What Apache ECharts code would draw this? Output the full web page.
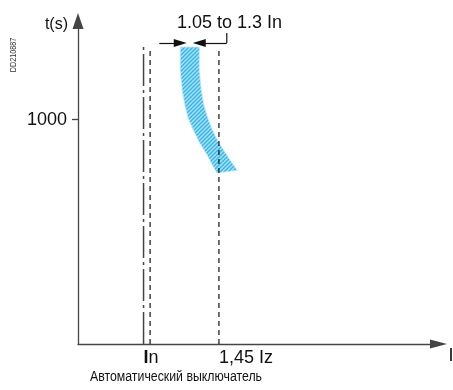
<!DOCTYPE html>
<html>
<head>
<meta charset="utf-8">
<script src="https://cdn.jsdelivr.net/npm/echarts@6/dist/echarts.min.js"></script>
<style>
  html, body { margin: 0; padding: 0; background: #fff; }
  #chart { width: 453px; height: 390px; }
</style>
</head>
<body>
<div id="chart"></div>
<script>
// x in multiples of In, y in seconds (schematic, not to scale)
const xTickValues = [1, 2.15]
const xTickLabels = ['{b|I}n', '1,45 Iz']
const yTickValues = [1000]
const yTickLabels = ['1000']

const inLine = [[1, 0], [1, 1324]]
const nearInLine = [[1.1, 0], [1.1, 1324]]
const izLine = [[2.15, 0], [2.15, 1324]]

// tripping band (left edge top->bottom, right edge top->bottom)
const bandLeft = [[1.56, 1324], [1.56, 1221], [1.59, 1132], [1.63, 1065], [1.68, 1008], [1.76, 954], [1.85, 900], [1.97, 843], [2.05, 798], [2.12, 762]]
const bandRight = [[1.85, 1324], [1.85, 1221], [1.88, 1132], [1.92, 1065], [1.98, 1008], [2.05, 954], [2.14, 900], [2.24, 856], [2.34, 811], [2.43, 775]]

// dimension "1.05 to 1.3 In"
const dimLeft = [[1.24, 1342], [1.56, 1342]]
const dimRight = [[2.27, 1342], [1.85, 1342]]
const dimLeader = [[2.27, 1342], [2.27, 1386]]

const font = '"Liberation Sans", Arial, sans-serif'

function makeHatch() {
  const s = 4
  const c = document.createElement('canvas')
  c.width = s
  c.height = s
  const ctx = c.getContext('2d')
  ctx.fillStyle = '#addff7'
  ctx.fillRect(0, 0, s, s)
  ctx.strokeStyle = '#2cb6eb'
  ctx.lineWidth = 1.3
  ctx.beginPath()
  ctx.moveTo(-1, s + 1); ctx.lineTo(s + 1, -1)
  ctx.moveTo(-1, 1); ctx.lineTo(1, -1)
  ctx.moveTo(s - 1, s + 1); ctx.lineTo(s + 1, s - 1)
  ctx.stroke()
  return c
}
const hatch = makeHatch()

const chart = echarts.init(document.getElementById('chart'))

const option = {
  backgroundColor: '#fff',
  animation: false,
  grid: { left: 78, right: 14.5, top: 21, bottom: 46, outerBoundsMode: 'none' },
  xAxis: {
    type: 'value',
    min: 0,
    max: 5.5,
    name: 'I',
    nameLocation: 'end',
    nameGap: 10,
    nameTextStyle: { fontFamily: font, fontSize: 18, color: '#111', align: 'left', verticalAlign: 'top', padding: [3, 0, 0, 0] },
    axisLine: { lineStyle: { color: '#444', width: 1.3 }, symbol: ['none', 'triangle'], symbolSize: [9, 17] },
    axisTick: { show: false },
    splitLine: { show: false },
    axisLabel: {
      customValues: xTickValues,
      align: 'left',
      margin: 5,
      fontFamily: font,
      fontSize: 18,
      color: '#111',
      formatter: (v) => xTickLabels[xTickValues.indexOf(v)],
      rich: { b: { fontFamily: font, fontSize: 18, fontWeight: 'bold', color: '#111' } }
    }
  },
  yAxis: {
    type: 'value',
    min: 0,
    max: 1440,
    name: 't(s)',
    nameLocation: 'end',
    nameGap: -4,
    nameTextStyle: { fontFamily: font, fontSize: 16, color: '#111', align: 'right', verticalAlign: 'middle', padding: [0, 10, 0, 0] },
    axisLine: { show: true, lineStyle: { color: '#444', width: 1.3 }, symbol: ['none', 'triangle'], symbolSize: [11, 16] },
    axisTick: { show: true, customValues: yTickValues, length: 6, lineStyle: { color: '#444', width: 1.3 } },
    splitLine: { show: false },
    axisLabel: {
      customValues: yTickValues,
      margin: 11,
      fontFamily: font,
      fontSize: 18,
      color: '#111',
      formatter: (v) => yTickLabels[yTickValues.indexOf(v)]
    }
  },
  series: [
    {
      type: 'custom',
      z: 1,
      data: [0],
      renderItem: (params, api) => {
        const pts = bandLeft.concat(bandRight.slice().reverse()).map((p) => api.coord(p))
        return {
          type: 'polygon',
          shape: { points: pts },
          style: { fill: { image: hatch, repeat: 'repeat' }, stroke: '#bde6f8', lineWidth: 0.8 }
        }
      }
    },
    {
      type: 'line',
      z: 3,
      data: inLine,
      symbol: 'none',
      lineStyle: { color: '#444', width: 1.5, type: [32, 4, 3, 4] }
    },
    {
      type: 'line',
      z: 3,
      data: nearInLine,
      symbol: 'none',
      lineStyle: { color: '#111', width: 1.2, type: [5, 4] }
    },
    {
      type: 'line',
      z: 3,
      data: izLine,
      symbol: 'none',
      lineStyle: { color: '#111', width: 1.2, type: [5, 4] }
    },
    {
      type: 'line',
      z: 3,
      data: dimLeader,
      symbol: 'none',
      lineStyle: { color: '#111', width: 1.2 },
      markLine: {
        silent: true,
        symbol: ['none', 'triangle'],
        label: { show: false },
        lineStyle: { color: '#111', width: 1.2, type: 'solid' },
        data: [
          [{ coord: dimLeft[0], symbol: 'none' }, { coord: dimLeft[1], symbol: 'triangle', symbolSize: [8, 13] }],
          [{ coord: dimRight[0], symbol: 'none' }, { coord: dimRight[1], symbol: 'triangle', symbolSize: [8, 13] }]
        ]
      }
    }
  ],
  graphic: [
    {
      type: 'text',
      x: 177,
      y: 23,
      style: { text: '1.05 to 1.3 In', fontFamily: font, fontSize: 18, fill: '#111', textVerticalAlign: 'middle' }
    },
    {
      type: 'text',
      x: 14,
      y: 55,
      rotation: Math.PI / 2,
      scaleX: 0.8,
      style: { text: 'DD210887', fontFamily: font, fontSize: 9, fill: '#333', textAlign: 'center', textVerticalAlign: 'middle' }
    },
    {
      type: 'text',
      x: 176,
      y: 377,
      scaleX: 0.88,
      style: { text: 'Автоматический выключатель', fontFamily: font, fontSize: 14, fill: '#111', textAlign: 'center', textVerticalAlign: 'middle' }
    }
  ]
}

chart.setOption(option)
</script>
</body>
</html>
